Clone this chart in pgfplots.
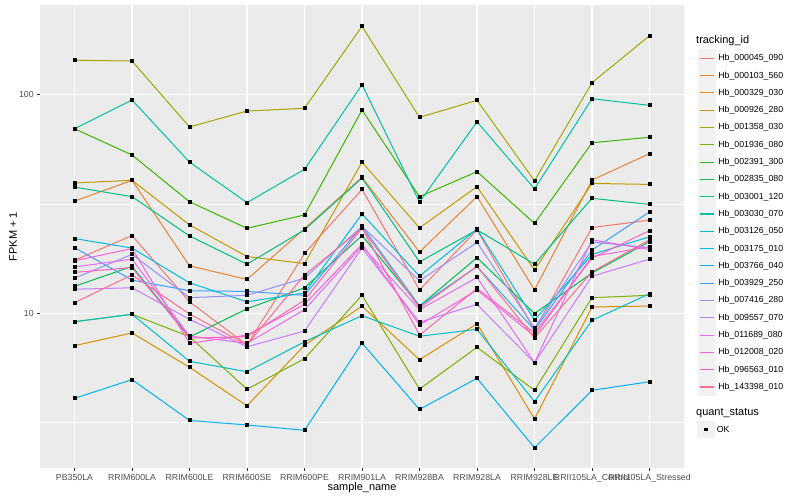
\documentclass[border=0pt]{standalone}
\usepackage{pgfplots}
\pgfplotsset{compat=1.18}
\usepackage{fontspec}
\setmainfont{Liberation Sans}
\definecolor{ggbg}{HTML}{EBEBEB}
\definecolor{ggkey}{HTML}{F2F2F2}
\definecolor{ggtext}{HTML}{4D4D4D}
\definecolor{ggtick}{HTML}{333333}
% ggplot hue palette, 20 levels
\definecolor{c01}{HTML}{F8766D}
\definecolor{c02}{HTML}{EA8331}
\definecolor{c03}{HTML}{D89000}
\definecolor{c04}{HTML}{C09B00}
\definecolor{c05}{HTML}{A3A500}
\definecolor{c06}{HTML}{7CAE00}
\definecolor{c07}{HTML}{39B600}
\definecolor{c08}{HTML}{00BB4E}
\definecolor{c09}{HTML}{00BF7D}
\definecolor{c10}{HTML}{00C1A3}
\definecolor{c11}{HTML}{00BFC4}
\definecolor{c12}{HTML}{00BAE0}
\definecolor{c13}{HTML}{00B0F6}
\definecolor{c14}{HTML}{35A2FF}
\definecolor{c15}{HTML}{9590FF}
\definecolor{c16}{HTML}{C77CFF}
\definecolor{c17}{HTML}{E76BF3}
\definecolor{c18}{HTML}{FA62DB}
\definecolor{c19}{HTML}{FF62BC}
\definecolor{c20}{HTML}{FF6C91}
\begin{document}
\begin{tikzpicture}
\useasboundingbox (0,0) rectangle (800bp,500bp);
\begin{axis}[
  at={(40bp,32bp)}, anchor=south west,
  scale only axis, width=644bp, height=462.7bp,
  xmin=-0.6, xmax=10.6,
  ymode=log, ymin=1.964, ymax=256.4,
  axis background/.style={fill=ggbg},
  axis line style={draw=none},
  xtick={0,...,10},
  xticklabels={PB350LA,RRIM600LA,RRIM600LE,RRIM600SE,RRIM600PE,RRIM901LA,RRIM928BA,RRIM928LA,RRIM928LE,RRII105LA\_Control,RRII105LA\_Stressed},
  ytick={10,100}, yticklabels={10,100},
  minor ytick={3.1623,31.623},
  grid=both,
  major grid style={white, line width=1.07bp},
  minor grid style={white, line width=0.53bp},
  tick align=outside,
  xtick pos=bottom, ytick pos=left,
  major tick length=2.75bp, minor tick length=0pt,
  tick style={ggtick, line width=0.53bp},
  /pgf/number format/assume math mode=true,
  ticklabel style={font=\fontsize{8.8}{10}\selectfont, text=ggtext},
  xlabel={sample\_name},
  xlabel style={at={(axis description cs:0.5,-0.0432)}, anchor=center, font=\fontsize{11}{13}\selectfont},
  ylabel={FPKM + 1},
  ylabel style={at={(axis description cs:-0.0419,0.5)}, anchor=center, font=\fontsize{11}{13}\selectfont},
  every axis plot/.append style={line width=1bp, mark=square*, mark size=1.5bp, mark options={draw=black, fill=black}},
  legend style={at={(axis description cs:1.0207,0.9049)}, anchor=north west, draw=none, fill=none,
    inner sep=0pt, row sep=-0.3bp, column sep=0.5bp, font=\fontsize{8.8}{10}\selectfont},
  legend cell align=left,
  legend image code/.code={
    \fill[ggkey] (0bp,-8.3bp) rectangle (17.3bp,8.3bp);
    \draw[#1, line width=1.1bp] (1.7bp,0bp) -- (15.6bp,0bp);
  },
]
\addplot[c01] coordinates {(0,17.5) (1,22.7) (2,11.3) (3,7.17) (4,18.8) (5,36.9) (6,12.8) (7,24.1) (8,8.40) (9,24.7) (10,26.7)};
\addplot[c02] coordinates {(0,32.6) (1,40.6) (2,16.5) (3,14.3) (4,24.4) (5,41.9) (6,19.1) (7,34.2) (8,12.8) (9,40.7) (10,53.8)};
\addplot[c03] coordinates {(0,7.12) (1,8.14) (2,5.67) (3,3.78) (4,7.15) (5,10.8) (6,6.14) (7,8.97) (8,3.29) (9,10.7) (10,10.8)};
\addplot[c04] coordinates {(0,39.5) (1,40.6) (2,25.4) (3,18.2) (4,16.9) (5,49.2) (6,24.6) (7,38.0) (8,15.8) (9,39.3) (10,38.9)};
\addplot[c05] coordinates {(0,143.7) (1,142.6) (2,71.2) (3,84.2) (4,86.7) (5,205.5) (6,78.8) (7,94.3) (8,40.4) (9,113.5) (10,186.1)};
\addplot[c06] coordinates {(0,9.16) (1,9.91) (2,7.83) (3,4.50) (4,6.21) (5,12.1) (6,4.51) (7,7.00) (8,4.45) (9,11.8) (10,12.1)};
\addplot[c07] coordinates {(0,69.9) (1,53.0) (2,32.4) (3,24.5) (4,28.2) (5,85.1) (6,34.2) (7,44.5) (8,25.8) (9,60.3) (10,63.9)};
\addplot[c08] coordinates {(0,13.3) (1,16.4) (2,7.80) (3,10.5) (4,13.1) (5,22.7) (6,10.8) (7,18.0) (8,9.99) (9,15.3) (10,21.3)};
\addplot[c09] coordinates {(0,37.8) (1,34.2) (2,22.6) (3,16.8) (4,24.1) (5,41.6) (6,17.2) (7,24.1) (8,16.8) (9,33.6) (10,31.5)};
\addplot[c10] coordinates {(0,69.9) (1,94.6) (2,49.2) (3,32.1) (4,45.6) (5,111.1) (6,32.3) (7,75.2) (8,37.1) (9,95.9) (10,89.4)};
\addplot[c11] coordinates {(0,9.16) (1,9.91) (2,6.04) (3,5.41) (4,7.42) (5,9.76) (6,7.86) (7,8.46) (8,3.95) (9,9.30) (10,12.3)};
\addplot[c12] coordinates {(0,22.0) (1,19.9) (2,13.8) (3,11.3) (4,12.4) (5,28.5) (6,14.8) (7,24.3) (8,9.33) (9,18.6) (10,22.4)};
\addplot[c13] coordinates {(0,4.09) (1,4.98) (2,3.24) (3,3.09) (4,2.92) (5,7.32) (6,3.64) (7,5.05) (8,2.43) (9,4.45) (10,4.87)};
\addplot[c14] coordinates {(0,20.0) (1,14.2) (2,12.7) (3,12.6) (4,12.1) (5,25.1) (6,10.8) (7,16.4) (8,8.40) (9,19.5) (10,29.1)};
\addplot[c15] coordinates {(0,14.5) (1,18.6) (2,11.8) (3,12.1) (4,14.5) (5,25.0) (6,14.1) (7,21.1) (8,8.58) (9,21.2) (10,20.0)};
\addplot[c16] coordinates {(0,12.9) (1,13.1) (2,9.40) (3,7.04) (4,8.31) (5,19.9) (6,9.11) (7,11.0) (8,5.95) (9,14.8) (10,17.7)};
\addplot[c17] coordinates {(0,16.3) (1,17.7) (2,7.88) (3,7.30) (4,10.4) (5,20.3) (6,10.4) (7,14.6) (8,5.95) (9,21.7) (10,19.6)};
\addplot[c18] coordinates {(0,17.4) (1,19.8) (2,7.30) (3,7.96) (4,11.0) (5,20.7) (6,8.85) (7,12.8) (8,7.88) (9,18.2) (10,20.2)};
\addplot[c19] coordinates {(0,15.4) (1,16.2) (2,7.72) (3,7.83) (4,11.5) (5,24.6) (6,7.96) (7,13.0) (8,8.14) (9,17.9) (10,23.9)};
\addplot[c20] coordinates {(0,11.2) (1,15.0) (2,9.94) (3,7.17) (4,15.0) (5,24.5) (6,10.6) (7,16.4) (8,7.72) (9,15.5) (10,21.7)};
\legend{Hb\_000045\_090,Hb\_000103\_560,Hb\_000329\_030,Hb\_000926\_280,Hb\_001358\_030,Hb\_001936\_080,Hb\_002391\_300,Hb\_002835\_080,Hb\_003001\_120,Hb\_003030\_070,Hb\_003126\_050,Hb\_003175\_010,Hb\_003766\_040,Hb\_003929\_250,Hb\_007416\_280,Hb\_009557\_070,Hb\_011689\_080,Hb\_012008\_020,Hb\_096563\_010,Hb\_143398\_010}
\end{axis}
% legend titles and the quant_status key
\node[anchor=west, inner sep=0pt, font=\fontsize{11}{13}\selectfont] at (696bp,459.3bp) {tracking\_id};
\node[anchor=west, inner sep=0pt, font=\fontsize{11}{13}\selectfont] at (696bp,87.3bp) {quant\_status};
\fill[ggkey] (697.3bp,62bp) rectangle (714.6bp,79.3bp);
\node[fill=black, inner sep=0pt, minimum size=3.2bp] at (706bp,70.7bp) {};
\node[anchor=west, inner sep=0pt, font=\fontsize{8.8}{10}\selectfont] at (716.7bp,70.7bp) {OK};
\end{tikzpicture}
\end{document}
